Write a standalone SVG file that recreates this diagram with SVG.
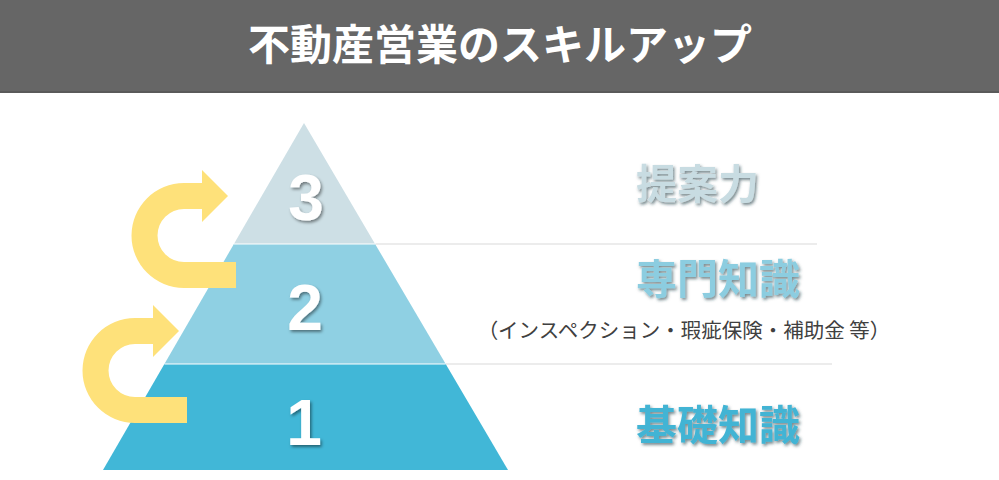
<svg xmlns="http://www.w3.org/2000/svg" width="999" height="480" viewBox="0 0 999 480">
<defs>
<style>
.title{font-family:"Noto Sans CJK JP","Noto Sans",sans-serif;font-weight:bold;font-size:42px;fill:#ffffff}
.num{font-family:"Liberation Sans",Arial,sans-serif;font-weight:bold;font-size:64px;fill:#ffffff;text-anchor:middle}
.lbl{font-family:"Noto Sans CJK JP","Noto Sans",sans-serif;font-weight:bold;font-size:41px}
.sub{font-family:"Noto Sans CJK JP","Noto Sans",sans-serif;font-size:20.5px;fill:#404040;text-anchor:middle}
.rule{stroke:#d9d9d9;stroke-width:1;fill:none}
.arrow{fill:#fee17a}
.sep{stroke:#ffffff;stroke-width:1}
</style>
<filter id="sh" x="-20%" y="-20%" width="140%" height="140%">
<feDropShadow dx="1.5" dy="2" stdDeviation="1.5" flood-color="#000000" flood-opacity="0.45"/>
</filter>
<filter id="shl" x="-10%" y="-20%" width="120%" height="150%">
<feDropShadow dx="1.5" dy="2" stdDeviation="1.5" flood-color="#1a3a44" flood-opacity="0.6"/>
</filter>
<path id="uarrow" d="M236,262 L184,262 A26.5,26.5 0 0 1 184,209 L202,209 L202,222 L228,196 L202,170 L202,183 L184,183 A52.5,52.5 0 0 0 184,288 L236,288 Z"/>
</defs>
<rect x="0" y="0" width="999" height="480" fill="#ffffff"/>
<g id="header">
<rect x="0" y="0" width="999" height="93" fill="#666666"/>
<rect x="0" y="91" width="999" height="2" fill="#5a5a5a"/>
<text class="title" x="500" y="60" text-anchor="middle">不動産営業のスキルアップ</text>
</g>
<g id="tier1">
<polygon points="164.4,364 445.7,364 508,470 103,470" fill="#41b7d7"/>
<text class="num" x="304" y="445" filter="url(#sh)">1</text>
</g>
<g id="tier2">
<polygon points="233.9,244 375.1,244 445.7,364 164.4,364" fill="#8fd0e3"/>
<text class="num" x="305" y="330" filter="url(#sh)">2</text>
</g>
<g id="tier3">
<polygon points="304,123 375.1,244 233.9,244" fill="#cddfe5"/>
<text class="num" x="306" y="220" filter="url(#sh)">3</text>
</g>
<g id="separators">
<line class="sep" x1="233.9" y1="244" x2="375.1" y2="244"/>
<line class="sep" x1="164.4" y1="364" x2="445.7" y2="364"/>
<line class="rule" x1="375.5" y1="244" x2="817" y2="244"/>
<line class="rule" x1="446" y1="364" x2="832" y2="364"/>
</g>
<g id="connectors">
<use href="#uarrow" class="arrow"/>
<use href="#uarrow" class="arrow" transform="translate(-49,135)"/>
</g>
<g id="label3">
<text class="lbl" x="636" y="199" fill="#c8dce2" filter="url(#shl)">提案力</text>
</g>
<g id="label2">
<text class="lbl" x="636" y="294" fill="#8ccde0" filter="url(#shl)">専門知識</text>
<text class="sub" x="684" y="338">（インスペクション・瑕疵保険・補助金 等）</text>
</g>
<g id="label1">
<text class="lbl" x="636" y="440" fill="#43b4d4" filter="url(#shl)">基礎知識</text>
</g>
</svg>
